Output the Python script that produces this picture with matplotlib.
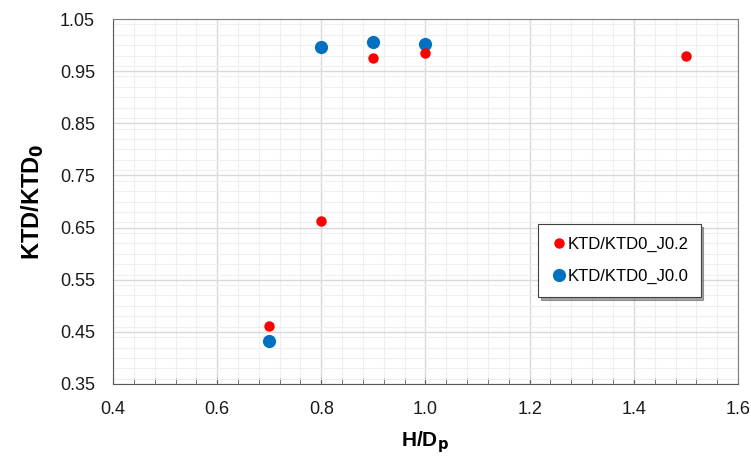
import matplotlib.pyplot as plt
from matplotlib.ticker import MultipleLocator, FormatStrFormatter

plt.rcParams['font.family'] = ['Liberation Sans', 'DejaVu Sans']

# H/Dp and ratio values
hd_j02 = [0.7, 0.8, 0.9, 1.0, 1.5]
ktd_j02 = [0.462, 0.663, 0.975, 0.985, 0.980]
hd_j00 = [0.7, 0.8, 0.9, 1.0]
ktd_j00 = [0.433, 0.997, 1.005, 1.003]

fig = plt.figure(figsize=(7.51, 4.57), dpi=100)
ax = fig.add_axes([113 / 751, 1 - 384 / 457, (738 - 113) / 751, (384 - 19) / 457])

ax.plot(hd_j02, ktd_j02, 'o', color='#ff0000', ms=7.5, mec='none', label='KTD/KTD0_J0.2', zorder=4)
ax.plot(hd_j00, ktd_j00, 'o', color='#0070c0', ms=9.5, mec='none', label='KTD/KTD0_J0.0', zorder=3)

ax.set_xlim(0.4, 1.6)
ax.set_ylim(0.35, 1.05)
ax.xaxis.set_major_locator(MultipleLocator(0.2))
ax.xaxis.set_minor_locator(MultipleLocator(0.04))
ax.yaxis.set_minor_locator(MultipleLocator(0.02))
ax.set_yticks([0.35 + 0.1 * i for i in range(8)])
ax.xaxis.set_major_formatter(FormatStrFormatter('%.1f'))
ax.yaxis.set_major_formatter(FormatStrFormatter('%.2f'))

ax.grid(which='major', color='#d9d9d9', linewidth=1.0)
ax.grid(which='minor', color='#efefef', linewidth=0.8)
ax.set_axisbelow(True)

for s in ax.spines.values():
    s.set_color('#808080')
ax.spines['left'].set_color('#595959')
ax.spines['bottom'].set_color('#595959')

ax.tick_params(which='both', direction='in', colors='#595959', labelcolor='#1a1a1a', labelsize=13)
ax.tick_params(axis='x', which='both', length=4, pad=12)
ax.tick_params(axis='y', which='both', length=0, pad=13)

ax.set_xlabel('H/D$_\\mathbf{p}$', fontsize=15, fontweight='bold', labelpad=8)
ax.set_ylabel('KTD/KTD$_\\mathbf{0}$', fontsize=17, fontweight='bold', labelpad=10)

leg = ax.legend(loc='upper left', bbox_to_anchor=(0.68, 0.438), borderaxespad=0,
                fancybox=False, shadow=True, framealpha=1, edgecolor='#404040',
                fontsize=12, handletextpad=0.0, labelspacing=1.05, borderpad=0.75,
                handlelength=1.0)
leg.get_frame().set_linewidth(0.8)

fig.savefig('out.png', dpi=100)
